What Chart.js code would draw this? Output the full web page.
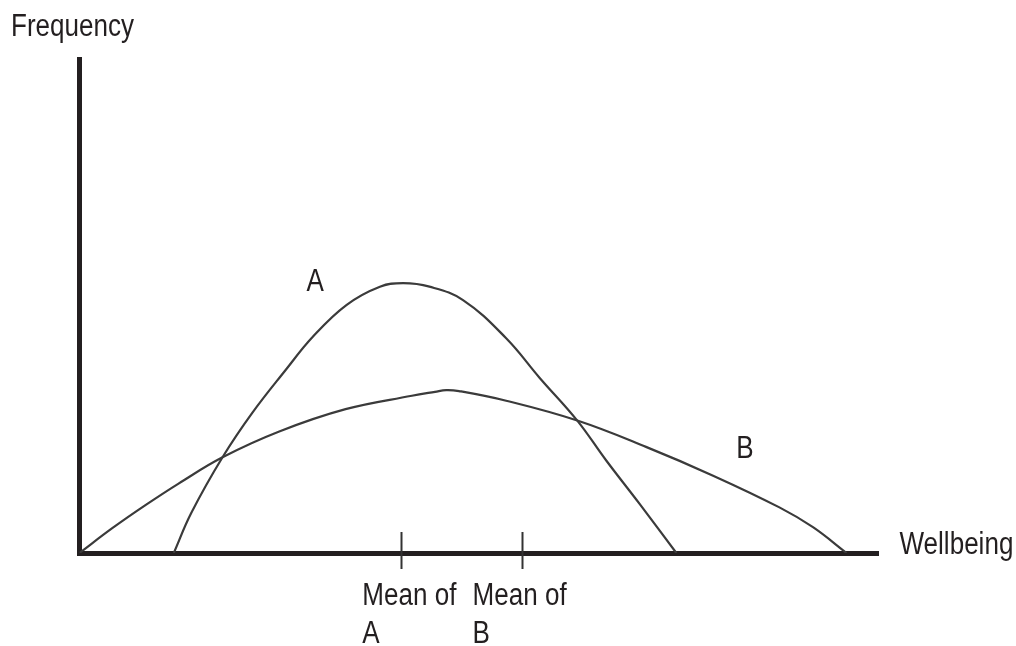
<!DOCTYPE html>
<html>
<head>
<meta charset="utf-8">
<script src="https://cdn.jsdelivr.net/npm/chart.js@4/dist/chart.umd.min.js"></script>
<style>
  html, body { margin: 0; padding: 0; background: #fff; }
  #wrap { width: 1016px; height: 646px; position: relative; }
</style>
</head>
<body>
<div id="wrap"><canvas id="chart"></canvas></div>
<script>
// curve A (narrow distribution)
var wellbeingA = [1.18, 1.40, 1.79, 2.16, 2.58, 2.92, 3.34, 3.76, 4.05, 4.38, 4.80, 5.34, 5.76, 6.23, 6.59, 7.01, 7.47];
var frequencyA = [0, 0.81, 1.93, 2.82, 3.69, 4.36, 5.00, 5.37, 5.44, 5.37, 5.10, 4.33, 3.53, 2.67, 1.87, 0.99, 0];
// curve B (wide distribution)
var wellbeingB = [0, 0.41, 0.83, 1.24, 1.79, 2.50, 3.33, 4.16, 4.45, 4.59, 4.75, 5.34, 6.23, 7.09, 7.93, 8.76, 9.18, 9.60];
var frequencyB = [0, 0.50, 0.97, 1.40, 1.93, 2.45, 2.90, 3.17, 3.25, 3.285, 3.265, 3.07, 2.67, 2.14, 1.56, 0.92, 0.52, 0];
// means on the x axis
var meanValues = [4.03, 5.54];
var meanNames = ['A', 'B'];
var curveNames = ['A', 'B'];

var ink = '#231f20';
var lineCol = '#3b3b3b';
var font = '31px "Liberation Sans", Arial, sans-serif';
var squeeze = 0.84; // the original type is a condensed face

function toPoints(xs, ys) {
    return xs.map(function(x, i) { return { x: x, y: ys[i] }; });
}

function text(ctx, s, x, y) {
    ctx.save();
    ctx.translate(x, y);
    ctx.scale(squeeze, 1);
    ctx.fillText(s, 0, 0);
    ctx.restore();
}

// where the text labels sit (data units)
var curveLabelPos = [{ x: 2.84, y: 5.28 }, { x: 8.22, y: 1.91 }];
var meanLabelX = [3.54, 4.92];

var annotate = {
    id: 'annotate',
    afterDraw: function(chart) {
        var ctx = chart.ctx;
        var xs = chart.scales.x, ys = chart.scales.y;
        var area = chart.chartArea;
        ctx.save();
        ctx.fillStyle = ink;
        ctx.font = font;
        ctx.textBaseline = 'alphabetic';
        ctx.textAlign = 'left';
        // axis names
        text(ctx, 'Frequency', 11, 36);
        text(ctx, 'Wellbeing', area.right + 21, area.bottom + 0.5);
        // mean ticks
        ctx.strokeStyle = '#333';
        ctx.lineWidth = 2;
        meanValues.forEach(function(v, i) {
            var px = Math.round(xs.getPixelForValue(v)) + 0.5;
            ctx.beginPath();
            ctx.moveTo(px, area.bottom - 21);
            ctx.lineTo(px, area.bottom + 16);
            ctx.stroke();
            var lx = xs.getPixelForValue(meanLabelX[i]);
            text(ctx, 'Mean of', lx, area.bottom + 52);
            text(ctx, meanNames[i], lx, area.bottom + 90);
        });
        // curve names
        curveLabelPos.forEach(function(p, i) {
            text(ctx, curveNames[i], xs.getPixelForValue(p.x), ys.getPixelForValue(p.y));
        });
        ctx.restore();
    }
};

var ctx = document.getElementById('chart').getContext('2d');
new Chart(ctx, {
    type: 'scatter',
    data: {
        datasets: [{
            label: 'A',
            data: toPoints(wellbeingA, frequencyA),
            showLine: true,
            borderColor: lineCol,
            borderWidth: 2.2,
            pointRadius: 0,
            tension: 0.4
        }, {
            label: 'B',
            data: toPoints(wellbeingB, frequencyB),
            showLine: true,
            borderColor: lineCol,
            borderWidth: 2.2,
            pointRadius: 0,
            tension: 0.4
        }]
    },
    options: {
        responsive: true,
        maintainAspectRatio: false,
        animation: false,
        layout: {
            autoPadding: false,
            padding: { left: 79.5, top: 59.5, right: 137.5, bottom: 93 }
        },
        plugins: {
            legend: { display: false },
            tooltip: { enabled: false }
        },
        scales: {
            x: {
                type: 'linear',
                min: 0,
                max: 10,
                grid: { display: false },
                ticks: { display: false },
                border: { display: true, color: ink, width: 5 },
                afterFit: function(s) { s.height = 0; }
            },
            y: {
                type: 'linear',
                min: 0,
                max: 9.95,
                grid: { display: false },
                ticks: { display: false },
                border: { display: true, color: ink, width: 5 },
                afterFit: function(s) { s.width = 0; }
            }
        }
    },
    plugins: [annotate]
});
</script>
</body>
</html>
